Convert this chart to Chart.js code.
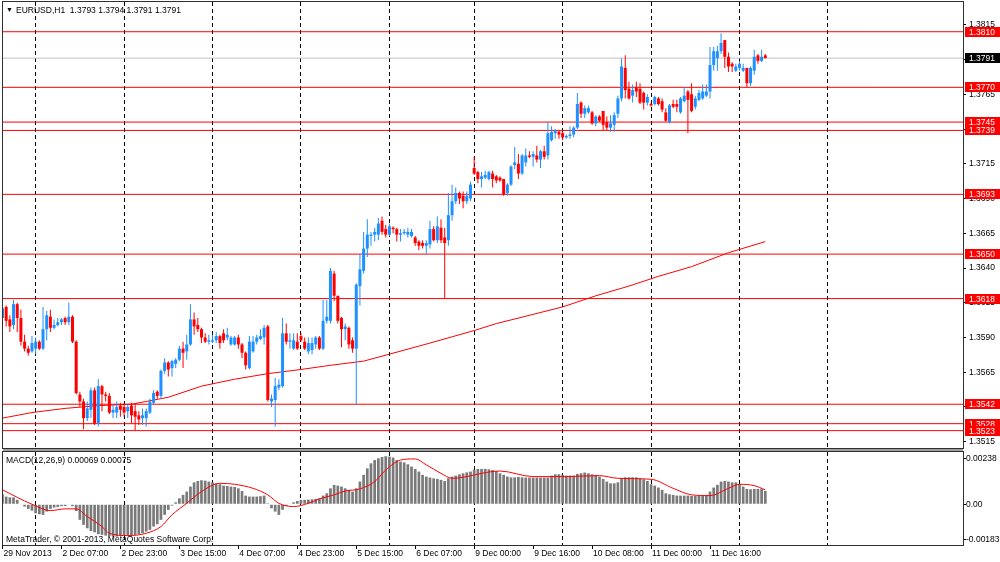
<!DOCTYPE html>
<html>
<head>
<meta charset="utf-8">
<title>EURUSD,H1</title>
<script src="https://cdn.jsdelivr.net/npm/chart.js@4.4.1/dist/chart.umd.min.js"></script>
<style>
  html, body { margin: 0; padding: 0; background: #fff; }
  body { position: relative; width: 1000px; height: 562px; overflow: hidden; }
  canvas { position: absolute; left: 0; }
  #main { top: 0; }
  #macd { top: 449px; }
  #split { position: absolute; left: 3px; top: 449px; width: 960px; height: 2px; background: #a0a0a0; }
  .txt { position: absolute; font: 8.5px "Liberation Sans", Arial, sans-serif; line-height: 10px; color: #000; white-space: pre; }
</style>
</head>
<body>
<canvas id="main" width="1000" height="449"></canvas>
<canvas id="macd" width="1000" height="113"></canvas>
<div id="split"></div>
<div class="txt" style="left:6px;top:5px;font-size:7px">▼</div>
<div class="txt" style="left:16px;top:5px">EURUSD,H1  1.3793 1.3794 1.3791 1.3791</div>
<div class="txt" style="left:6px;top:455px">MACD(12,26,9) 0.00069 0.00075</div>
<div class="txt" style="left:6px;top:534px">MetaTrader, © 2001-2013, MetaQuotes Software Corp.</div>
<script>
// hourly bars, 29 Nov 2013 14:00 .. 12 Dec 2013 07:00 (index 0..207)
const openP = [
  1.3604,1.3612,1.3603,1.3599,1.3614,1.3604,1.3587,1.3582,1.3580,1.3582,
  1.3587,1.3582,1.3596,1.3605,1.3597,1.3599,1.3601,1.3604,1.3601,1.3605,
  1.3587,1.3549,1.3544,1.3532,1.3538,1.3552,1.3528,1.3555,1.3549,1.3548,
  1.3536,1.3536,1.3541,1.3540,1.3537,1.3541,1.3537,1.3534,1.3532,1.3532,
  1.3536,1.3543,1.3551,1.3548,1.3566,1.3572,1.3568,1.3571,1.3574,1.3582,
  1.3580,1.3585,1.3603,1.3599,1.3596,1.3590,1.3587,1.3587,1.3588,1.3591,
  1.3593,1.3590,1.3585,1.3585,1.3590,1.3585,1.3579,1.3568,1.3580,1.3587,
  1.3589,1.3590,1.3598,1.3544,1.3545,1.3554,1.3555,1.3593,1.3587,1.3582,
  1.3587,1.3591,1.3587,1.3580,1.3581,1.3585,1.3590,1.3582,1.3602,1.3602,
  1.3636,1.3620,1.3604,1.3596,1.3597,1.3588,1.3582,1.3627,1.3638,1.3654,
  1.3663,1.3664,1.3664,1.3674,1.3668,1.3664,1.3669,1.3668,1.3664,1.3665,
  1.3664,1.3663,1.3662,1.3659,1.3658,1.3656,1.3657,1.3668,1.3660,1.3669,
  1.3662,1.3660,1.3678,1.3688,1.3694,1.3692,1.3688,1.3690,1.3712,1.3709,
  1.3704,1.3705,1.3704,1.3708,1.3706,1.3705,1.3704,1.3694,1.3700,1.3714,
  1.3715,1.3708,1.3716,1.3721,1.3720,1.3721,1.3718,1.3724,1.3721,1.3732,
  1.3737,1.3738,1.3737,1.3734,1.3735,1.3736,1.3741,1.3759,1.3751,1.3752,
  1.3752,1.3744,1.3749,1.3753,1.3745,1.3741,1.3743,1.3751,1.3762,1.3784,
  1.3769,1.3764,1.3770,1.3769,1.3766,1.3759,1.3758,1.3758,1.3762,1.3760,
  1.3752,1.3745,1.3758,1.3758,1.3752,1.3760,1.3767,1.3765,1.3756,1.3761,
  1.3762,1.3764,1.3767,1.3786,1.3791,1.3796,1.3804,1.3792,1.3787,1.3782,
  1.3784,1.3782,1.3784,1.3773,1.3782,1.3793,1.3789,1.3793
];
const highP = [
  1.3616,1.3613,1.3606,1.3617,1.3615,1.3610,1.3592,1.3584,1.3591,1.3590,
  1.3588,1.3612,1.3609,1.3610,1.3603,1.3604,1.3604,1.3605,1.3615,1.3606,
  1.3588,1.3551,1.3546,1.3544,1.3554,1.3554,1.3560,1.3556,1.3551,1.3550,
  1.3542,1.3544,1.3543,1.3543,1.3542,1.3543,1.3542,1.3537,1.3539,1.3539,
  1.3546,1.3552,1.3552,1.3567,1.3575,1.3573,1.3574,1.3575,1.3584,1.3587,
  1.3592,1.3614,1.3608,1.3604,1.3597,1.3593,1.3592,1.3592,1.3594,1.3592,
  1.3596,1.3597,1.3591,1.3591,1.3592,1.3586,1.3580,1.3591,1.3591,1.3592,
  1.3596,1.3599,1.3599,1.3549,1.3561,1.3560,1.3604,1.3600,1.3593,1.3593,
  1.3593,1.3593,1.3590,1.3590,1.3590,1.3591,1.3591,1.3617,1.3617,1.3640,
  1.3638,1.3620,1.3605,1.3600,1.3598,1.3590,1.3629,1.3650,1.3666,1.3675,
  1.3666,1.3669,1.3676,1.3677,1.3671,1.3672,1.3670,1.3669,1.3668,1.3668,
  1.3669,1.3668,1.3663,1.3660,1.3660,1.3660,1.3674,1.3670,1.3677,1.3675,
  1.3669,1.3694,1.3700,1.3698,1.3695,1.3695,1.3695,1.3702,1.3720,1.3710,
  1.3709,1.3710,1.3710,1.3710,1.3707,1.3706,1.3704,1.3701,1.3714,1.3727,
  1.3722,1.3722,1.3726,1.3724,1.3724,1.3728,1.3725,1.3728,1.3745,1.3742,
  1.3740,1.3739,1.3738,1.3736,1.3742,1.3742,1.3766,1.3760,1.3757,1.3757,
  1.3753,1.3750,1.3750,1.3753,1.3749,1.3750,1.3752,1.3764,1.3791,1.3793,
  1.3774,1.3772,1.3774,1.3773,1.3767,1.3765,1.3759,1.3764,1.3763,1.3762,
  1.3755,1.3758,1.3761,1.3761,1.3763,1.3770,1.3768,1.3773,1.3764,1.3768,
  1.3772,1.3772,1.3799,1.3799,1.3800,1.3809,1.3804,1.3795,1.3788,1.3787,
  1.3789,1.3787,1.3784,1.3785,1.3797,1.3794,1.3797,1.3794
];
const lowP = [
  1.3603,1.3598,1.3594,1.3596,1.3594,1.3584,1.3580,1.3577,1.3579,1.3578,
  1.3581,1.3581,1.3588,1.3594,1.3596,1.3598,1.3599,1.3599,1.3599,1.3586,
  1.3549,1.3540,1.3524,1.3530,1.3532,1.3527,1.3526,1.3537,1.3544,1.3535,
  1.3532,1.3532,1.3533,1.3533,1.3532,1.3528,1.3523,1.3527,1.3527,1.3526,
  1.3535,1.3542,1.3546,1.3546,1.3564,1.3562,1.3562,1.3568,1.3573,1.3568,
  1.3574,1.3584,1.3592,1.3594,1.3586,1.3586,1.3585,1.3586,1.3586,1.3582,
  1.3586,1.3588,1.3584,1.3584,1.3582,1.3575,1.3567,1.3567,1.3579,1.3585,
  1.3588,1.3585,1.3544,1.3540,1.3526,1.3552,1.3554,1.3585,1.3582,1.3581,
  1.3581,1.3587,1.3581,1.3578,1.3578,1.3582,1.3581,1.3581,1.3600,1.3600,
  1.3616,1.3600,1.3583,1.3588,1.3582,1.3579,1.3542,1.3613,1.3636,1.3648,
  1.3656,1.3659,1.3660,1.3664,1.3662,1.3663,1.3665,1.3659,1.3659,1.3664,
  1.3662,1.3662,1.3656,1.3653,1.3654,1.3650,1.3654,1.3659,1.3658,1.3658,
  1.3618,1.3656,1.3674,1.3686,1.3686,1.3683,1.3686,1.3688,1.3707,1.3701,
  1.3698,1.3704,1.3703,1.3698,1.3701,1.3702,1.3692,1.3692,1.3699,1.3711,
  1.3704,1.3707,1.3713,1.3719,1.3713,1.3716,1.3712,1.3718,1.3718,1.3731,
  1.3733,1.3733,1.3732,1.3733,1.3733,1.3734,1.3740,1.3748,1.3748,1.3751,
  1.3743,1.3742,1.3745,1.3739,1.3739,1.3738,1.3738,1.3748,1.3760,1.3762,
  1.3761,1.3759,1.3763,1.3758,1.3754,1.3757,1.3756,1.3757,1.3757,1.3752,
  1.3745,1.3744,1.3755,1.3752,1.3751,1.3759,1.3737,1.3752,1.3754,1.3760,
  1.3761,1.3763,1.3762,1.3782,1.3782,1.3794,1.3784,1.3781,1.3781,1.3781,
  1.3782,1.3781,1.3770,1.3771,1.3779,1.3787,1.3788,1.3791
];
const closeP = [
  1.3611,1.3602,1.3598,1.3614,1.3604,1.3587,1.3582,1.3579,1.3586,1.3587,
  1.3582,1.3596,1.3606,1.3597,1.3599,1.3601,1.3603,1.3601,1.3605,1.3587,
  1.3550,1.3544,1.3532,1.3539,1.3552,1.3528,1.3555,1.3549,1.3548,1.3536,
  1.3538,1.3540,1.3538,1.3536,1.3540,1.3534,1.3533,1.3531,1.3534,1.3537,
  1.3544,1.3550,1.3548,1.3566,1.3572,1.3567,1.3573,1.3574,1.3582,1.3579,
  1.3585,1.3603,1.3598,1.3596,1.3590,1.3587,1.3588,1.3588,1.3591,1.3586,
  1.3588,1.3592,1.3590,1.3590,1.3585,1.3579,1.3570,1.3587,1.3587,1.3590,
  1.3591,1.3597,1.3545,1.3546,1.3555,1.3556,1.3593,1.3587,1.3588,1.3588,
  1.3582,1.3588,1.3582,1.3586,1.3586,1.3590,1.3582,1.3602,1.3605,1.3638,
  1.3620,1.3602,1.3596,1.3598,1.3585,1.3582,1.3628,1.3639,1.3654,1.3664,
  1.3664,1.3666,1.3672,1.3666,1.3664,1.3670,1.3668,1.3664,1.3665,1.3666,
  1.3666,1.3666,1.3658,1.3656,1.3656,1.3658,1.3668,1.3660,1.3670,1.3660,
  1.3658,1.3678,1.3688,1.3694,1.3690,1.3688,1.3692,1.3700,1.3708,1.3704,
  1.3706,1.3707,1.3709,1.3704,1.3703,1.3703,1.3693,1.3700,1.3713,1.3716,
  1.3708,1.3721,1.3721,1.3720,1.3722,1.3718,1.3724,1.3720,1.3737,1.3738,
  1.3739,1.3736,1.3734,1.3735,1.3736,1.3741,1.3758,1.3751,1.3755,1.3755,
  1.3744,1.3749,1.3746,1.3743,1.3741,1.3744,1.3750,1.3762,1.3785,1.3768,
  1.3762,1.3768,1.3767,1.3759,1.3759,1.3763,1.3757,1.3763,1.3758,1.3754,
  1.3746,1.3757,1.3756,1.3756,1.3762,1.3764,1.3761,1.3753,1.3762,1.3766,
  1.3767,1.3767,1.3786,1.3796,1.3796,1.3802,1.3792,1.3785,1.3785,1.3785,
  1.3787,1.3784,1.3773,1.3784,1.3792,1.3789,1.3792,1.3791
];

// moving average, read at these bars
const maBars   = [0, 8, 17, 26, 35, 39, 45, 54, 63, 72, 81, 89, 98, 105, 116, 128, 134, 143, 152, 161, 170, 178, 187, 197, 207];
const maValues = [1.3532, 1.3536, 1.3539, 1.3541, 1.3542, 1.3544, 1.3547, 1.3555, 1.3560, 1.3564, 1.3567, 1.3570, 1.3573,
                  1.3578, 1.3586, 1.3595, 1.3600, 1.3606, 1.3612, 1.3620, 1.3627, 1.3634, 1.3641, 1.3651, 1.3659];

// horizontal levels and current bid
const levelValues = [1.3810, 1.3770, 1.3745, 1.3739, 1.3693, 1.3650, 1.3618, 1.3542, 1.3528, 1.3523];
const lastPrice = 1.3791;
const priceTicks = [1.3515, 1.3540, 1.3565, 1.3590, 1.3615, 1.3640, 1.3665, 1.3690, 1.3715, 1.3740, 1.3765, 1.3790, 1.3815];

// MACD(12,26,9): main (histogram) per bar, signal read at these bars
const macdMain = [
  0.00052,0.00040,0.00036,0.00036,0.00023,-0.00002,-0.00012,-0.00024,-0.00033,-0.00047,
  -0.00052,-0.00055,-0.00038,-0.00024,-0.00017,-0.00014,-0.00010,-0.00009,-0.00003,-0.00010,
  -0.00035,-0.00081,-0.00107,-0.00125,-0.00139,-0.00146,-0.00156,-0.00159,-0.00163,-0.00165,
  -0.00168,-0.00168,-0.00165,-0.00163,-0.00163,-0.00161,-0.00159,-0.00156,-0.00151,-0.00142,
  -0.00133,-0.00116,-0.00104,-0.00081,-0.00055,-0.00029,-0.00007,0.00010,0.00031,0.00049,
  0.00066,0.00092,0.00114,0.00121,0.00125,0.00123,0.00118,0.00114,0.00109,0.00104,
  0.00097,0.00095,0.00092,0.00090,0.00083,0.00069,0.00045,0.00040,0.00040,0.00040,
  0.00042,0.00045,0.00005,-0.00021,-0.00038,-0.00055,-0.00029,-0.00009,0.00002,0.00010,
  0.00017,0.00023,0.00023,0.00024,0.00026,0.00028,0.00031,0.00045,0.00057,0.00083,
  0.00101,0.00097,0.00092,0.00083,0.00075,0.00066,0.00083,0.00118,0.00153,0.00187,
  0.00213,0.00230,0.00239,0.00246,0.00250,0.00248,0.00243,0.00230,0.00222,0.00218,
  0.00208,0.00196,0.00184,0.00170,0.00153,0.00144,0.00139,0.00135,0.00132,0.00127,
  0.00121,0.00135,0.00144,0.00149,0.00156,0.00161,0.00166,0.00170,0.00180,0.00184,
  0.00184,0.00184,0.00182,0.00178,0.00173,0.00161,0.00153,0.00144,0.00140,0.00140,
  0.00142,0.00140,0.00139,0.00139,0.00139,0.00139,0.00139,0.00139,0.00139,0.00149,
  0.00156,0.00156,0.00153,0.00149,0.00149,0.00149,0.00158,0.00161,0.00165,0.00161,
  0.00156,0.00153,0.00144,0.00132,0.00118,0.00109,0.00109,0.00114,0.00135,0.00140,
  0.00140,0.00140,0.00140,0.00135,0.00130,0.00121,0.00104,0.00097,0.00087,0.00075,
  0.00057,0.00052,0.00049,0.00045,0.00045,0.00045,0.00045,0.00043,0.00043,0.00043,
  0.00043,0.00049,0.00066,0.00087,0.00101,0.00118,0.00121,0.00118,0.00114,0.00114,
  0.00104,0.00092,0.00080,0.00078,0.00080,0.00080,0.00081,0.00069
];
const signalBars   = [0, 8, 13, 17, 20, 23, 27, 29, 34, 39, 43, 46, 50, 54, 59, 63, 68, 72, 75, 79, 83, 86, 90, 93,
                      97, 101, 104, 108, 112, 115, 119, 122, 126, 130, 135, 144, 153, 162, 167, 176, 182, 187, 192, 197, 200, 204, 207];
const signalValues = [0.00075, 0.00000, -0.00033, -0.00024, -0.00024, -0.00064, -0.00116, -0.00151, -0.00163, -0.00151,
                      -0.00116, -0.00055, 0.00005, 0.00066, 0.00109, 0.00104, 0.00083, 0.00049, 0.00005, -0.00012,
                      0.00005, 0.00028, 0.00049, 0.00069, 0.00080, 0.00118, 0.00178, 0.00230, 0.00236, 0.00205,
                      0.00161, 0.00135, 0.00144, 0.00161, 0.00173, 0.00144, 0.00144, 0.00149, 0.00135, 0.00130,
                      0.00083, 0.00049, 0.00045, 0.00083, 0.00104, 0.00097, 0.00075];
const macdTicks = [-0.00183, 0, 0.00238];

// time axis
const daySeparators = [9, 33, 57, 81, 105, 128, 152, 176, 200, 224];
const timeLabelBars = [0, 16, 32, 48, 64, 80, 96, 112, 128, 144, 160, 176, 192];
const timeLabels = ['29 Nov 2013', '2 Dec 07:00', '2 Dec 23:00', '3 Dec 15:00', '4 Dec 07:00', '4 Dec 23:00',
                    '5 Dec 15:00', '6 Dec 07:00', '9 Dec 00:00', '9 Dec 16:00', '10 Dec 08:00', '11 Dec 00:00', '11 Dec 16:00'];

const X_MIN = 0.14, X_MAX = 260.65;
const FONT = { family: '"Liberation Sans", Arial, sans-serif', size: 8.5 };
const BULL = '#1e90ff', BEAR = '#ff0000';

const frame = {
  id: 'frame',
  afterDraw(chart) {
    const { ctx, chartArea: a } = chart;
    ctx.save();
    ctx.strokeStyle = '#303030';
    ctx.lineWidth = 1;
    ctx.strokeRect(a.left - 0.5, a.top - 0.5, a.right - a.left + 1, a.bottom - a.top + 1);
    ctx.restore();
  }
};

const priceBadges = {
  id: 'priceBadges',
  afterDraw(chart) {
    const { ctx, chartArea: a } = chart;
    const y = chart.scales.y;
    const tag = (v, bg) => {
      const py = Math.round(y.getPixelForValue(v));
      ctx.fillStyle = bg;
      ctx.fillRect(a.right + 2, py - 5, chart.width - a.right - 2, 10);
      ctx.fillStyle = '#fff';
      ctx.fillText(v.toFixed(4), a.right + 6, py + 0.5);
    };
    ctx.save();
    ctx.font = '8.5px "Liberation Sans", Arial, sans-serif';
    ctx.textBaseline = 'middle';
    levelValues.forEach(v => tag(v, '#ff0000'));
    tag(lastPrice, '#000000');
    ctx.restore();
  }
};

// right-hand value axis: fixed width, no extra room reserved for half labels
function fitValueAxis(ax) {
  ax.width = 37;
  ax.paddingTop = 0;
  ax.paddingBottom = 0;
}

function separatorAxis() {
  return {
    type: 'linear', min: X_MIN, max: X_MAX, offset: false,
    afterBuildTicks: ax => { ax.ticks = daySeparators.map(v => ({ value: v })); },
    afterFit: ax => { ax.height = 0; },
    ticks: { display: false },
    grid: { offset: false, color: '#000', lineWidth: 1, drawTicks: false },
    border: { display: false, dash: [4, 3] }
  };
}

const candleColors = openP.map((o, i) => closeP[i] >= o ? BULL : BEAR);
const wickData = openP.map((o, i) => ({ x: i, y: [lowP[i], highP[i]] }));
const bodyData = openP.map((o, i) => ({ x: i, y: [o, closeP[i]] }));

const levelSets = levelValues.map(v => ({
  type: 'line', xAxisID: 'x',
  data: [{ x: X_MIN - 1, y: v }, { x: X_MAX + 1, y: v }],
  borderColor: '#ff0000', borderWidth: 1, pointRadius: 0, order: 5
}));

new Chart(document.getElementById('main'), {
  type: 'bar',
  data: {
    datasets: [
      ...levelSets,
      { type: 'line', xAxisID: 'x', data: [{ x: X_MIN - 1, y: lastPrice }, { x: X_MAX + 1, y: lastPrice }],
        borderColor: '#c0c0c0', borderWidth: 1, pointRadius: 0, order: 6 },
      { type: 'line', xAxisID: 'x', data: maBars.map((b, i) => ({ x: b, y: maValues[i] })),
        borderColor: '#ff0000', borderWidth: 1, pointRadius: 0, tension: 0, order: 4 },
      { type: 'bar', xAxisID: 'x', data: wickData, backgroundColor: candleColors,
        barThickness: 1, grouped: false, inflateAmount: 0, order: 2 },
      { type: 'bar', xAxisID: 'x', data: bodyData, backgroundColor: candleColors,
        barThickness: 3, grouped: false, inflateAmount: 0, order: 1 }
    ]
  },
  options: {
    responsive: false, animation: false, events: [],
    layout: { padding: { left: 3, top: 2, right: 0, bottom: 1 } },
    plugins: { legend: { display: false }, tooltip: { enabled: false } },
    scales: {
      x: separatorAxis(),
      y: {
        position: 'right', min: 1.35105, max: 1.38314, beginAtZero: false,
        afterBuildTicks: ax => { ax.ticks = priceTicks.map(v => ({ value: v })); },
        afterFit: fitValueAxis,
        ticks: { font: FONT, color: '#000', padding: 3, callback: v => v.toFixed(4) },
        grid: { drawOnChartArea: false, tickLength: 3, color: '#000' },
        border: { display: false }
      }
    }
  },
  plugins: [frame, priceBadges]
});

new Chart(document.getElementById('macd'), {
  type: 'bar',
  data: {
    datasets: [
      { type: 'line', xAxisID: 'x', data: signalBars.map((b, i) => ({ x: b, y: signalValues[i] })),
        borderColor: '#ff0000', borderWidth: 1, pointRadius: 0, cubicInterpolationMode: 'monotone', order: 0 },
      { type: 'bar', xAxisID: 'x', data: macdMain.map((v, i) => ({ x: i, y: v })),
        backgroundColor: '#7a7a7a', barThickness: 2.7, grouped: false, inflateAmount: 0, order: 1 }
    ]
  },
  options: {
    responsive: false, animation: false, events: [],
    layout: { padding: { left: 3, top: 3, right: 0, bottom: 0 } },
    plugins: { legend: { display: false }, tooltip: { enabled: false } },
    scales: {
      x: separatorAxis(),
      xl: {
        type: 'linear', position: 'bottom', min: X_MIN, max: X_MAX, offset: false,
        afterBuildTicks: ax => { ax.ticks = timeLabelBars.map(v => ({ value: v })); },
        afterFit: ax => { ax.height = 17; },
        ticks: { font: FONT, color: '#000', padding: 0, align: 'start', labelOffset: 1,
                 autoSkip: false, maxRotation: 0, minRotation: 0,
                 callback: v => timeLabels[timeLabelBars.indexOf(v)] },
        grid: { offset: false, drawOnChartArea: false, tickLength: 4, color: '#000' },
        border: { display: false }
      },
      y: {
        position: 'right', min: -0.00212, max: 0.00272, beginAtZero: false,
        afterBuildTicks: ax => { ax.ticks = macdTicks.map(v => ({ value: v })); },
        afterFit: fitValueAxis,
        ticks: { font: FONT, color: '#000', padding: 0, callback: v => v === 0 ? '0.00' : v.toFixed(5) },
        grid: { drawOnChartArea: false, tickLength: 3, color: '#000' },
        border: { display: false }
      }
    }
  },
  plugins: [frame]
});
</script>
</body>
</html>
